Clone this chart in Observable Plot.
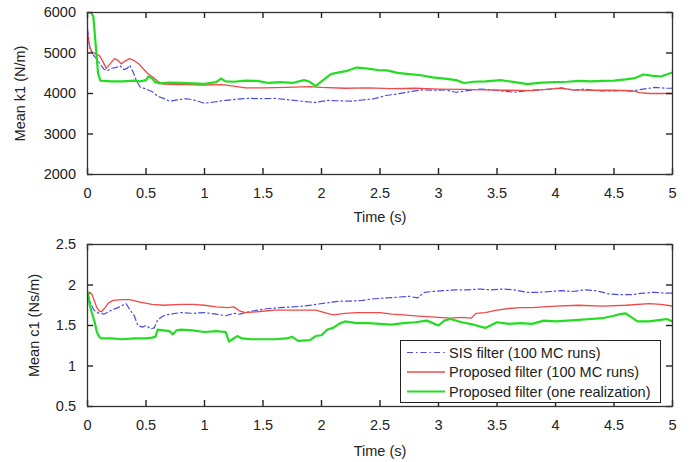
<!DOCTYPE html>
<html>
<head>
<meta charset="utf-8">
<script src="https://cdn.jsdelivr.net/npm/d3@7"></script>
<script src="https://cdn.jsdelivr.net/npm/@observablehq/plot@0.6"></script>
<style>
  html, body { margin: 0; padding: 0; background: #fff; }
  #chart { position: relative; width: 694px; height: 462px; font-family: "Liberation Sans", Arial, sans-serif; }
  #chart svg { display: block; }
  #legend { position: absolute; left: 400px; top: 340px; }
</style>
</head>
<body>
<div id="chart"></div>
<script>
// ---------- Data ----------
const xTicks = [0, 0.5, 1, 1.5, 2, 2.5, 3, 3.5, 4, 4.5, 5];
const k1Ticks = [2000, 3000, 4000, 5000, 6000];
const c1Ticks = [0.5, 1, 1.5, 2, 2.5];

const seriesNames = ["SIS filter (100 MC runs)", "Proposed filter (100 MC runs)", "Proposed filter (one realization)"];
const seriesColors = ["#4a4ae8", "#ee4a4a", "#22dd22"];
const seriesWidths = [1.2, 1.3, 2.2];
const seriesDash = ["6,3,1.5,3", null, null];

// Top panel: Mean k1 (N/m)
const k1SisT = [0, 0.02, 0.05, 0.08, 0.11, 0.14, 0.17, 0.2, 0.24, 0.28, 0.31, 0.34, 0.36, 0.39, 0.42, 0.45, 0.5, 0.55, 0.6, 0.65, 0.7, 0.78, 0.85, 0.92, 1.0, 1.08, 1.18, 1.28, 1.38, 1.5, 1.6, 1.7, 1.8, 1.9, 1.95, 2.05, 2.15, 2.25, 2.35, 2.45, 2.55, 2.65, 2.75, 2.85, 2.95, 3.05, 3.15, 3.25, 3.35, 3.45, 3.55, 3.65, 3.75, 3.85, 3.95, 4.05, 4.15, 4.25, 4.35, 4.45, 4.55, 4.65, 4.75, 4.85, 4.95, 5.0];
const k1Sis = [5600, 5100, 4950, 4850, 4720, 4600, 4560, 4620, 4640, 4680, 4590, 4620, 4700, 4530, 4300, 4160, 4110, 4050, 3930, 3880, 3810, 3850, 3870, 3830, 3760, 3790, 3830, 3860, 3880, 3870, 3880, 3850, 3820, 3790, 3780, 3830, 3820, 3810, 3840, 3870, 3950, 3990, 4040, 4090, 4080, 4090, 4030, 4070, 4110, 4090, 4060, 4030, 4070, 4090, 4110, 4140, 4080, 4110, 4070, 4060, 4070, 4060, 4110, 4150, 4130, 4130];

const k1PropT = [0, 0.02, 0.04, 0.07, 0.1, 0.13, 0.16, 0.19, 0.23, 0.26, 0.29, 0.32, 0.36, 0.4, 0.44, 0.48, 0.52, 0.56, 0.6, 0.65, 0.8, 1.0, 1.15, 1.25, 1.35, 1.5, 1.7, 1.9, 2.0, 2.2, 2.4, 2.6, 2.8, 3.0, 3.2, 3.4, 3.6, 3.8, 4.0, 4.05, 4.15, 4.3, 4.5, 4.65, 4.72, 4.8, 5.0];
const k1Prop = [5500, 5150, 5020, 4980, 4940, 4800, 4620, 4720, 4860, 4820, 4730, 4800, 4860, 4810, 4730, 4600, 4480, 4400, 4300, 4230, 4220, 4210, 4220, 4180, 4140, 4140, 4150, 4170, 4150, 4130, 4140, 4120, 4130, 4110, 4100, 4090, 4080, 4070, 4120, 4130, 4090, 4080, 4080, 4070, 4020, 4000, 4000];

const k1OneT = [0, 0.03, 0.05, 0.07, 0.09, 0.11, 0.15, 0.2, 0.3, 0.4, 0.45, 0.5, 0.52, 0.55, 0.58, 0.62, 0.7, 0.8, 0.9, 1.0, 1.1, 1.14, 1.18, 1.25, 1.35, 1.45, 1.55, 1.65, 1.75, 1.85, 1.9, 1.95, 2.0, 2.08, 2.15, 2.22, 2.3, 2.38, 2.48, 2.56, 2.65, 2.75, 2.85, 2.95, 3.07, 3.15, 3.22, 3.3, 3.4, 3.53, 3.65, 3.76, 3.88, 4.0, 4.1, 4.2, 4.3, 4.4, 4.5, 4.6, 4.68, 4.75, 4.82, 4.9, 5.0];
const k1One = [6000, 6000, 5900, 5200, 4500, 4320, 4310, 4300, 4300, 4320, 4300, 4330, 4420, 4380, 4280, 4250, 4270, 4260, 4250, 4240, 4280, 4370, 4300, 4290, 4320, 4310, 4260, 4280, 4260, 4330, 4290, 4180, 4300, 4480, 4520, 4560, 4640, 4620, 4580, 4570, 4510, 4480, 4450, 4400, 4360, 4330, 4260, 4290, 4300, 4330, 4280, 4230, 4270, 4280, 4290, 4310, 4300, 4310, 4320, 4350, 4380, 4470, 4440, 4420, 4520];

// Bottom panel: Mean c1 (Ns/m)
const c1SisT = [0, 0.02, 0.05, 0.08, 0.1, 0.14, 0.18, 0.22, 0.26, 0.3, 0.33, 0.36, 0.4, 0.43, 0.47, 0.5, 0.54, 0.57, 0.6, 0.65, 0.7, 0.8, 0.9, 1.0, 1.1, 1.18, 1.25, 1.3, 1.35, 1.45, 1.55, 1.65, 1.75, 1.85, 1.95, 2.05, 2.15, 2.25, 2.35, 2.45, 2.55, 2.65, 2.75, 2.82, 2.88, 2.95, 3.05, 3.15, 3.25, 3.35, 3.45, 3.55, 3.65, 3.75, 3.85, 3.95, 4.05, 4.15, 4.25, 4.35, 4.45, 4.55, 4.65, 4.75, 4.85, 4.95, 5.0];
const c1Sis = [1.9, 1.8, 1.7, 1.66, 1.65, 1.64, 1.67, 1.7, 1.72, 1.75, 1.77, 1.7, 1.62, 1.5, 1.48, 1.5, 1.46, 1.47, 1.57, 1.62, 1.64, 1.66, 1.65, 1.66, 1.64, 1.62, 1.65, 1.64, 1.66, 1.69, 1.71, 1.72, 1.73, 1.74, 1.76, 1.78, 1.8, 1.8, 1.81, 1.83, 1.84, 1.85, 1.86, 1.84, 1.91, 1.92, 1.93, 1.94, 1.94, 1.95, 1.94, 1.95, 1.94, 1.91, 1.91, 1.92, 1.93, 1.92, 1.94, 1.93, 1.89, 1.88, 1.88, 1.9, 1.91, 1.9, 1.9];

const c1PropT = [0, 0.02, 0.04, 0.06, 0.08, 0.1, 0.12, 0.15, 0.18, 0.22, 0.3, 0.36, 0.45, 0.55, 0.65, 0.8, 0.9, 1.0, 1.1, 1.2, 1.25, 1.3, 1.35, 1.45, 1.6, 1.8, 1.95, 2.05, 2.1, 2.2, 2.3, 2.5, 2.6, 2.7, 2.8, 2.9, 3.0, 3.1, 3.2, 3.28, 3.32, 3.4, 3.5, 3.6, 3.7, 3.8, 3.9, 4.0, 4.2, 4.4, 4.6, 4.8, 4.9, 5.0];
const c1Prop = [1.85, 1.91, 1.88, 1.8, 1.72, 1.68, 1.67, 1.72, 1.78, 1.81, 1.82, 1.82, 1.79, 1.76, 1.75, 1.76, 1.76, 1.75, 1.73, 1.72, 1.73, 1.68, 1.66, 1.67, 1.69, 1.69, 1.69, 1.65, 1.63, 1.65, 1.66, 1.66, 1.64, 1.63, 1.62, 1.61, 1.6, 1.59, 1.6, 1.59, 1.65, 1.66, 1.69, 1.71, 1.72, 1.72, 1.73, 1.74, 1.75, 1.74, 1.75, 1.77, 1.76, 1.74];

const c1OneT = [0, 0.02, 0.04, 0.06, 0.08, 0.1, 0.12, 0.2, 0.3, 0.4, 0.5, 0.55, 0.58, 0.6, 0.65, 0.7, 0.73, 0.76, 0.8, 0.9, 1.0, 1.1, 1.18, 1.21, 1.24, 1.28, 1.32, 1.4, 1.5, 1.6, 1.7, 1.75, 1.8, 1.9, 1.95, 2.0, 2.05, 2.1, 2.15, 2.2, 2.3, 2.4, 2.5, 2.6, 2.7, 2.8, 2.9, 3.0, 3.05, 3.1, 3.2, 3.3, 3.4, 3.5, 3.6, 3.7, 3.8, 3.9, 4.0, 4.1, 4.2, 4.3, 4.4, 4.5, 4.55, 4.6, 4.65, 4.7, 4.8, 4.9, 4.95, 5.0];
const c1One = [1.92, 1.75, 1.64, 1.55, 1.42, 1.36, 1.34, 1.34, 1.33, 1.34, 1.34, 1.35, 1.36, 1.45, 1.44, 1.43, 1.39, 1.44, 1.45, 1.44, 1.42, 1.43, 1.42, 1.3, 1.33, 1.37, 1.34, 1.33, 1.33, 1.33, 1.34, 1.36, 1.31, 1.32, 1.37, 1.38, 1.45, 1.47, 1.52, 1.55, 1.53, 1.53, 1.52, 1.51, 1.53, 1.54, 1.56, 1.5, 1.56, 1.58, 1.54, 1.51, 1.47, 1.54, 1.52, 1.53, 1.52, 1.56, 1.55, 1.56, 1.57, 1.58, 1.59, 1.62, 1.64, 1.65, 1.6, 1.55, 1.55, 1.57, 1.58, 1.55];

// ---------- Drawing ----------
const toRows = (ts, vs) => ts.map((t, i) => ({t, v: vs[i]}));
const fmt = d => String(d);
const FONT = "Liberation Sans, Arial, Helvetica, sans-serif";
const W = 694, ML = 87, MR = 22, TICK = 6;

function panel({series, yDomain, yTicks, yLabel, height, marginTop, marginBottom, yLabelOffset, xLabelOffset}) {
  const innerH = height - marginTop - marginBottom;
  const innerW = W - ML - MR;
  const tickStyle = {stroke: "#222", strokeWidth: 1.4};
  return Plot.plot({
    width: W,
    height,
    marginLeft: ML,
    marginRight: MR,
    marginTop,
    marginBottom,
    x: {domain: [0, 5]},
    y: {domain: yDomain},
    style: {fontFamily: FONT, fontSize: "14.5px", color: "#222", background: "#fff", overflow: "visible"},
    marks: [
      ...series.map((rows, i) => Plot.line(rows, {
        x: "t", y: "v",
        stroke: seriesColors[i],
        strokeWidth: seriesWidths[i],
        strokeDasharray: seriesDash[i],
        clip: true
      })),
      // inward tick marks on all four sides (MATLAB-style box)
      Plot.tickX(xTicks, {x: d => d, insetTop: innerH - TICK, ...tickStyle}),
      Plot.tickX(xTicks, {x: d => d, insetBottom: innerH - TICK, ...tickStyle}),
      Plot.tickY(yTicks, {y: d => d, insetRight: innerW - TICK, ...tickStyle}),
      Plot.tickY(yTicks, {y: d => d, insetLeft: innerW - TICK, ...tickStyle}),
      Plot.frame({stroke: "#333", strokeWidth: 1.3}),
      // tick labels + axis titles
      Plot.axisX({ticks: xTicks, tickSize: 0, tickPadding: 13, tickFormat: fmt,
        label: "Time (s)", labelAnchor: "center", labelArrow: "none", labelOffset: xLabelOffset}),
      Plot.axisY({ticks: yTicks, tickSize: 0, tickPadding: 11.5, tickFormat: fmt,
        label: yLabel, labelAnchor: "center", labelArrow: "none", labelOffset: yLabelOffset})
    ]
  });
}

const chart = document.getElementById("chart");

chart.appendChild(panel({
  series: [toRows(k1SisT, k1Sis), toRows(k1PropT, k1Prop), toRows(k1OneT, k1One)],
  yDomain: [2000, 6000], yTicks: k1Ticks, yLabel: "Mean k1 (N/m)",
  height: 231, marginTop: 12, marginBottom: 57, yLabelOffset: 73, xLabelOffset: 47
}));

chart.appendChild(panel({
  series: [toRows(c1SisT, c1Sis), toRows(c1PropT, c1Prop), toRows(c1OneT, c1One)],
  yDomain: [0.5, 2.5], yTicks: c1Ticks, yLabel: "Mean c1 (Ns/m)",
  height: 231, marginTop: 13, marginBottom: 56, yLabelOffset: 59, xLabelOffset: 49
}));

// Legend box (inside lower panel, bottom-right)
const lg = d3.select(chart).append("svg")
  .attr("id", "legend")
  .attr("width", 262).attr("height", 64)
  .style("font-family", FONT).style("font-size", "14.5px");
lg.append("rect").attr("x", 0.5).attr("y", 0.5).attr("width", 260).attr("height", 62)
  .attr("fill", "#fff").attr("stroke", "#222").attr("stroke-width", 1);
seriesNames.forEach((name, i) => {
  const cy = 12.5 + i * 19.5;
  lg.append("line").attr("x1", 7).attr("x2", 45).attr("y1", cy).attr("y2", cy)
    .attr("stroke", seriesColors[i]).attr("stroke-width", seriesWidths[i])
    .attr("stroke-dasharray", seriesDash[i]);
  lg.append("text").attr("x", 49).attr("y", cy).attr("dy", "0.35em")
    .attr("fill", "#222").text(name);
});
</script>
</body>
</html>
